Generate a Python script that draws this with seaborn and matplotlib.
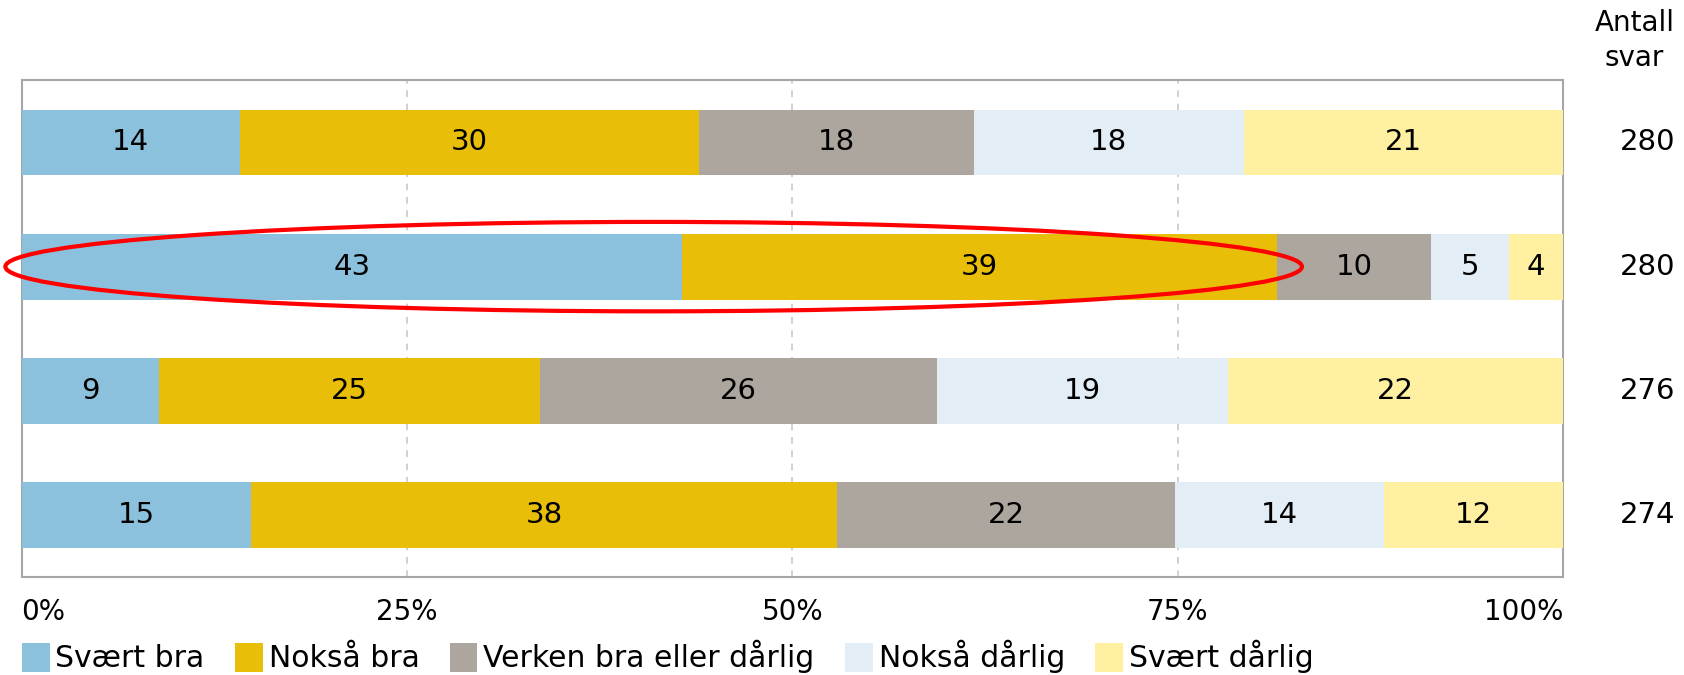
import matplotlib.pyplot as plt
import matplotlib.transforms as mtransforms
from matplotlib.patches import Ellipse, Patch
import numpy as np
import pandas as pd
import seaborn as sns

# Data: share of answers (%) per row
rows = ['Spørsmål 1', 'Spørsmål 2', 'Spørsmål 3', 'Spørsmål 4']
categories = ['Svært bra', 'Nokså bra', 'Verken bra eller dårlig', 'Nokså dårlig', 'Svært dårlig']
svaert_bra = [14.15, 42.86, 8.92, 14.91]
noksaa_bra = [29.76, 38.54, 24.74, 37.98]
verken = [17.84, 10.03, 25.71, 21.95]
noksaa_darlig = [17.56, 5.02, 18.89, 13.52]
svaert_darlig = [20.70, 3.55, 21.74, 11.64]
antall_svar = [280, 280, 276, 274]

colors = ['#8CC1DD', '#E9BE09', '#ADA69F', '#E2EDF6', '#FEF0A0']

df = pd.DataFrame({'Rad': rows,
                   categories[0]: svaert_bra,
                   categories[1]: noksaa_bra,
                   categories[2]: verken,
                   categories[3]: noksaa_darlig,
                   categories[4]: svaert_darlig})
cum = df[categories].cumsum(axis=1)

sns.set_theme(style='white')
plt.rcParams['font.family'] = ['DejaVu Sans']
plt.rcParams['text.color'] = 'black'
plt.rcParams['xtick.color'] = 'black'

fig = plt.figure(figsize=(16.84, 6.75), dpi=100)
ax = fig.add_axes([0.0128, 0.145, 0.9155, 0.736])

# stacked bars: draw the cumulative totals from the longest down
for cat, col in reversed(list(zip(categories, colors))):
    sns.barplot(x=cum[cat], y=df['Rad'], color=col, orient='h', saturation=1,
                width=0.53, linewidth=0, ax=ax, zorder=3)

# value labels in the middle of each segment
for cat in categories:
    centers = cum[cat] - df[cat] / 2
    for i, (c, v) in enumerate(zip(centers, df[cat])):
        ax.text(c, i, f'{v:.0f}', ha='center', va='center', fontsize=21,
                color='black', zorder=5)

ax.set_xlim(0, 100)
ax.set_ylim(3.5, -0.5)
ax.set_xticks([0, 25, 50, 75, 100])
ax.set_xticklabels(['0%', '25%', '50%', '75%', '100%'], fontsize=20)
labels = ax.get_xticklabels()
labels[0].set_ha('left')
labels[-1].set_ha('right')
ax.tick_params(axis='x', length=0, pad=15, colors='black')
ax.set_yticks([])
ax.set_xlabel('')
ax.set_ylabel('')
for x in [25, 50, 75]:
    ax.axvline(x, color='#C8C8C8', linestyle=(0, (4, 4)), linewidth=1.2, zorder=1)
for s in ax.spines.values():
    s.set_color('#A6A6A6')
    s.set_linewidth(1.5)

# number of answers on the right
trans = mtransforms.blended_transform_factory(ax.transAxes, ax.transData)
for i, n in enumerate(antall_svar):
    ax.text(1.0726, i, str(n), ha='right', va='center', fontsize=21,
            color='black', transform=trans)
fig.text(0.9705, 0.94, 'Antall\nsvar', ha='center', va='center', fontsize=20,
         color='black', linespacing=1.35)

# red highlight around the second row
ax.add_patch(Ellipse((41.0, 1), 84.1, 0.72, fill=False, edgecolor='#FF0000',
                     linewidth=3, zorder=6, clip_on=False))

handles = [Patch(facecolor=c, edgecolor='none') for c in colors]
fig.legend(handles, categories, loc='center left', bbox_to_anchor=(0.006, 0.027),
           ncol=5, frameon=False, fontsize=21.5, handlelength=0.92, handleheight=1.1,
           handletextpad=0.2, columnspacing=1.02, borderaxespad=0)

fig.savefig('out.png', dpi=100)
